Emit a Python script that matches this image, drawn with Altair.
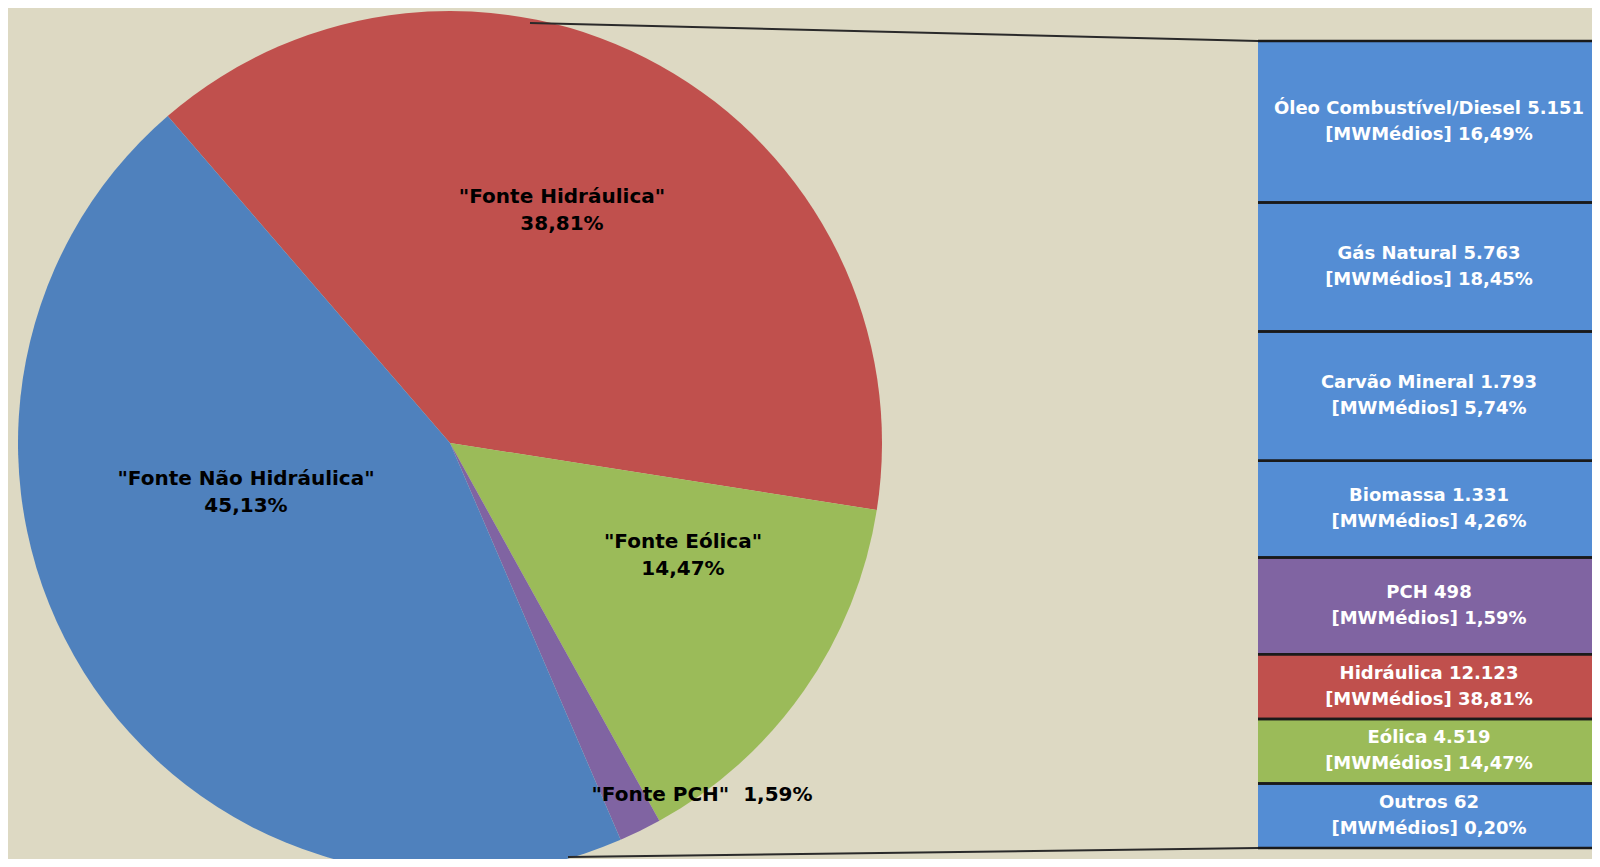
import math
import altair as alt
import pandas as pd

# ---------------- data ----------------
pie_categories = ['"Fonte Hidráulica"', '"Fonte Eólica"', '"Fonte PCH"', '"Fonte Não Hidráulica"']
pie_shares = [38.81, 14.47, 1.59, 45.13]

bar_sources = ["Óleo Combustível/Diesel", "Gás Natural", "Carvão Mineral", "Biomassa",
               "PCH", "Hidráulica", "Eólica", "Outros"]
bar_mw = [5151, 5763, 1793, 1331, 498, 12123, 4519, 62]
bar_pct = [16.49, 18.45, 5.74, 4.26, 1.59, 38.81, 14.47, 0.20]
bar_group = ["Não Hidráulica", "Não Hidráulica", "Não Hidráulica", "Não Hidráulica",
             "PCH", "Hidráulica", "Eólica", "Não Hidráulica"]
bar_slots = [5, 4, 4, 3, 3, 2, 2, 2]  # relative display height of each row in the breakdown bar

# ---------------- helpers ----------------
def br_num(n):
    return f"{n:,}".replace(",", ".")

def br_pct(p):
    return f"{p:.2f}".replace(".", ",") + "%"

pie_df = pd.DataFrame({
    "cat": pie_categories,
    "share": pie_shares,
    "ord": list(range(len(pie_categories))),
})
pie_df["label"] = [c + "\n" + br_pct(s) for c, s in zip(pie_categories, pie_shares)]
pie_df["inline"] = [c + "\u00a0\u00a0" + br_pct(s) for c, s in zip(pie_categories, pie_shares)]

bar_df = pd.DataFrame({
    "src": bar_sources,
    "mw": bar_mw,
    "pct": bar_pct,
    "grupo": bar_group,
    "slots": bar_slots,
    "ord": list(range(len(bar_sources))),
})
bar_df["text"] = [f"{s} {br_num(m)}\n[MWMédios] {br_pct(p)}" for s, m, p in zip(bar_sources, bar_mw, bar_pct)]

# ---------------- styling / layout ----------------
W, H = 1584, 851
BG = "#DDD9C3"
FONT = "DejaVu Sans"
pie_colors = {'"Fonte Hidráulica"': "#C0504D", '"Fonte Eólica"': "#9BBB59",
              '"Fonte PCH"': "#8064A2", '"Fonte Não Hidráulica"': "#4F81BD"}
bar_colors = {"Não Hidráulica": "#548DD4", "PCH": "#8064A2", "Hidráulica": "#C0504D", "Eólica": "#9BBB59"}
CX, CY, R = 442, 435, 432
start = math.radians(319.2)
BAR_X0, BAR_X1 = 1250, 1600
BAR_TOP, BAR_BOT = 33, 840

# ---------------- pie ----------------
pie = alt.Chart(pie_df).mark_arc(outerRadius=R, clip=True).encode(
    theta=alt.Theta("share:Q", stack=True, scale=alt.Scale(range=[start, start + 2 * math.pi])),
    order=alt.Order("ord:Q"),
    color=alt.Color("cat:N", legend=None,
                    scale=alt.Scale(domain=list(pie_colors.keys()), range=list(pie_colors.values()))),
    x=alt.value(CX),
    y=alt.value(CY),
)

label_pos = {
    '"Fonte Hidráulica"': (554, 202),
    '"Fonte Não Hidráulica"': (238, 484),
    '"Fonte Eólica"': (675, 547),
}
pie_labels = []
for cat, (lx, ly) in label_pos.items():
    pie_labels.append(
        alt.Chart(pie_df).transform_filter(alt.datum.cat == cat).mark_text(
            font=FONT, fontWeight="bold", fontSize=20, color="black",
            lineBreak="\n", lineHeight=27, align="center", baseline="middle", dy=-13,
        ).encode(text="label:N", x=alt.value(lx), y=alt.value(ly))
    )
pch_label = alt.Chart(pie_df).transform_filter(alt.datum.cat == '"Fonte PCH"').mark_text(
    font=FONT, fontWeight="bold", fontSize=20, color="black",
    align="center", baseline="middle").encode(
    text="inline:N", x=alt.value(694), y=alt.value(787))

# ---------------- connectors ----------------
conn_df = pd.DataFrame({"k": [0]})
top_line = alt.Chart(conn_df).mark_rule(color="#2a2a2a", strokeWidth=2).encode(
    x=alt.value(522), y=alt.value(15), x2=alt.value(BAR_X0), y2=alt.value(BAR_TOP))
bot_line = alt.Chart(conn_df).mark_rule(color="#2a2a2a", strokeWidth=2).encode(
    x=alt.value(560), y=alt.value(849), x2=alt.value(BAR_X0), y2=alt.value(BAR_BOT))

# ---------------- breakdown bar ----------------
ysc = alt.Scale(domain=[0, sum(bar_slots)], range=[BAR_TOP, BAR_BOT], nice=False, zero=False)
bar_base = alt.Chart(bar_df).transform_window(
    cum="sum(slots)", sort=[alt.SortField("ord")], frame=[None, 0]
).transform_calculate(
    st="datum.cum - datum.slots", mid="datum.cum - datum.slots / 2"
)
bar_rects = bar_base.mark_rect().encode(
    y=alt.Y("st:Q", scale=ysc, axis=None), y2="cum:Q",
    x=alt.value(BAR_X0), x2=alt.value(BAR_X1),
    color=alt.Color("grupo:N", legend=None,
                    scale=alt.Scale(domain=list(bar_colors.keys()), range=list(bar_colors.values()))),
)
bar_sep_top = bar_base.mark_rule(color="#1a1a1a", strokeWidth=2.5).encode(
    y=alt.Y("st:Q", scale=ysc, axis=None), x=alt.value(BAR_X0), x2=alt.value(BAR_X1))
bar_sep_bot = bar_base.mark_rule(color="#1a1a1a", strokeWidth=2.5).encode(
    y=alt.Y("cum:Q", scale=ysc, axis=None), x=alt.value(BAR_X0), x2=alt.value(BAR_X1))
bar_text = bar_base.mark_text(
    font=FONT, fontWeight="bold", fontSize=18, color="white",
    lineBreak="\n", lineHeight=26, align="center", baseline="middle", dy=-13,
).encode(
    y=alt.Y("mid:Q", scale=ysc, axis=None),
    x=alt.value(1421),
    text="text:N",
)

chart = alt.layer(
    pie, *pie_labels, pch_label, top_line, bot_line,
    bar_rects, bar_sep_top, bar_sep_bot, bar_text,
).resolve_scale(color="independent").properties(
    width=W, height=H, background=BG, padding=0,
    autosize=alt.AutoSizeParams(type="none"),
).configure_view(stroke=None, fill=BG)

chart.save("out.html", embed_options={"renderer": "svg", "actions": False})
